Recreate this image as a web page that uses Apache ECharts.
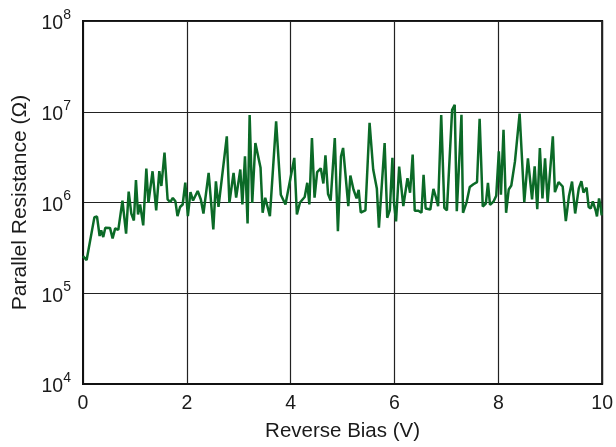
<!DOCTYPE html>
<html>
<head>
<meta charset="utf-8">
<script src="https://cdn.jsdelivr.net/npm/echarts@6/dist/echarts.min.js"></script>
<style>
html,body{margin:0;padding:0;background:#fff;}
#chart{width:616px;height:447px;}
</style>
</head>
<body>
<div id="chart"></div>
<script>
// Reverse bias (V)
const biasV = [0.00,0.07,0.22,0.27,0.32,0.35,0.39,0.43,0.52,0.57,0.62,0.68,0.76,0.83,0.88,0.93,0.98,1.02,1.06,1.10,
1.16,1.22,1.26,1.34,1.41,1.47,1.51,1.57,1.63,1.68,1.73,1.78,1.82,1.87,1.92,1.97,2.02,2.07,2.12,2.21,
2.27,2.32,2.42,2.51,2.56,2.61,2.77,2.82,2.90,2.95,3.03,3.07,3.12,3.17,3.21,3.26,3.32,3.42,3.46,3.51,
3.60,3.72,3.81,3.90,4.07,4.12,4.18,4.27,4.32,4.36,4.41,4.46,4.51,4.58,4.63,4.67,4.72,4.77,4.85,4.91,
4.97,5.01,5.11,5.15,5.21,5.27,5.31,5.35,5.44,5.52,5.59,5.66,5.70,5.81,5.86,5.91,5.96,5.99,6.03,6.09,
6.17,6.25,6.30,6.35,6.39,6.46,6.52,6.56,6.60,6.69,6.75,6.80,6.84,6.90,6.96,7.01,7.11,7.16,7.20,7.29,
7.32,7.39,7.45,7.52,7.59,7.64,7.70,7.76,7.80,7.84,7.91,7.96,8.01,8.05,8.10,8.15,8.20,8.25,8.32,8.41,
8.50,8.57,8.65,8.70,8.75,8.80,8.85,8.90,8.95,9.05,9.09,9.16,9.24,9.30,9.36,9.42,9.48,9.55,9.60,9.64,
9.70,9.74,9.78,9.82,9.88,9.90,9.94,9.97,9.99];
// Parallel resistance (Ohm)
const resistance = [2.57e5,2.32e5,6.9e5,7.0e5,4.27e5,4.92e5,4.16e5,5.27e5,5.25e5,4.02e5,5.18e5,4.99e5,1.05e6,4.53e5,1.32e6,7.57e5,6.34e5,1.77e6,7.38e5,9.5e5,
5.59e5,2.36e6,9.9e5,2.21e6,8.17e5,2.22e6,1.52e6,3.54e6,1.08e6,1.01e6,1.12e6,1.03e6,7.07e5,8.92e5,9.51e5,1.66e6,7.07e5,1.30e6,1.05e6,1.34e6,
1.08e6,7.57e5,2.12e6,5.05e5,1.71e6,8.97e5,5.35e6,9.9e5,2.12e6,1.13e6,2.31e6,9.51e5,3.23e6,5.88e5,9.2e6,9.9e5,4.53e6,2.41e6,7.7e5,1.13e6,
7.07e5,7.82e6,1.22e6,9.51e5,3.10e6,7.38e5,1.0e6,1.15e6,1.65e6,9.51e5,5.14e6,1.13e6,2.16e6,2.38e6,1.62e6,3.30e6,1.24e6,1.05e6,5.14e6,4.84e5,
3.23e6,3.99e6,9.11e5,1.98e6,1.39e6,1.11e6,1.38e6,7.76e5,8.17e5,7.57e6,2.31e6,1.43e6,5.27e5,4.51e6,6.79e5,8.27e5,3.10e6,9.9e5,6.18e5,2.49e6,
9.11e5,1.85e6,1.28e6,3.37e6,8.11e5,8.11e5,7.7e5,2.02e6,8.59e5,8.38e5,1.41e6,1.13e6,9.11e5,9.2e6,8.74e5,8.17e5,1.05e7,1.19e7,8.02e5,9.27e6,
7.7e5,1.01e6,1.48e6,1.59e6,1.68e6,8.38e6,9.04e5,9.75e5,1.65e6,9.39e5,1.03e6,1.19e6,3.66e6,1.22e6,6.34e6,7.7e5,1.39e6,1.54e6,2.82e6,9.56e6,
1.01e6,3.07e6,1.08e6,2.51e6,8.44e5,3.99e6,1.11e6,3.07e6,1.0e6,5.35e6,1.30e6,1.68e6,1.50e6,6.23e5,1.17e6,1.70e6,7.57e5,1.43e6,1.72e6,1.29e6,
1.46e6,8.92e5,8.59e5,1.03e6,7.96e5,7.02e5,1.11e6,9.04e5,7.2e5];
const xTicks = [0,2,4,6,8,10];
const yExponents = [4,5,6,7,8];

const FONT = '"Liberation Sans", Arial, sans-serif';
const chart = echarts.init(document.getElementById('chart'), null, {renderer:'canvas'});
const pts = biasV.map((v,i)=>[v, resistance[i]]);
chart.setOption({
  animation:false,
  backgroundColor:'#fff',
  grid:{left:83,right:13,top:21,bottom:62,show:true,borderColor:'#111',borderWidth:2},
  xAxis:{
    type:'value',min:xTicks[0],max:xTicks[xTicks.length-1],interval:2,
    name:'Reverse Bias (V)',nameLocation:'middle',nameGap:37,
    nameTextStyle:{fontFamily:FONT,fontSize:20.5,color:'#1a1a1a'},
    axisLine:{lineStyle:{color:'#111',width:2}},
    axisTick:{show:false},
    axisLabel:{fontFamily:FONT,fontSize:19.5,color:'#1a1a1a',margin:10},
    splitLine:{show:true,lineStyle:{color:'#222',width:1.2}}
  },
  yAxis:{
    type:'log',logBase:10,min:Math.pow(10,yExponents[0]),max:Math.pow(10,yExponents[yExponents.length-1]),
    name:'Parallel Resistance (Ω)',nameLocation:'middle',nameGap:48,
    nameTextStyle:{fontFamily:FONT,fontSize:21,color:'#1a1a1a'},
    axisLine:{lineStyle:{color:'#111',width:2}},
    axisTick:{show:false},
    axisLabel:{
      margin:12,
      formatter:function(v){const e=Math.round(Math.log10(v));return '{b|10}{s|'+e+'}';},
      rich:{
        b:{fontFamily:FONT,fontSize:19.5,color:'#1a1a1a',lineHeight:26,verticalAlign:'bottom'},
        s:{fontFamily:FONT,fontSize:14,color:'#1a1a1a',lineHeight:26,verticalAlign:'top'}
      }
    },
    splitLine:{show:true,lineStyle:{color:'#222',width:1.2}}
  },
  series:[{
    type:'line',data:pts,showSymbol:false,
    lineStyle:{color:'#0b6a27',width:2.5},
    itemStyle:{color:'#0b6a27'}
  }]
});
</script>
</body>
</html>
